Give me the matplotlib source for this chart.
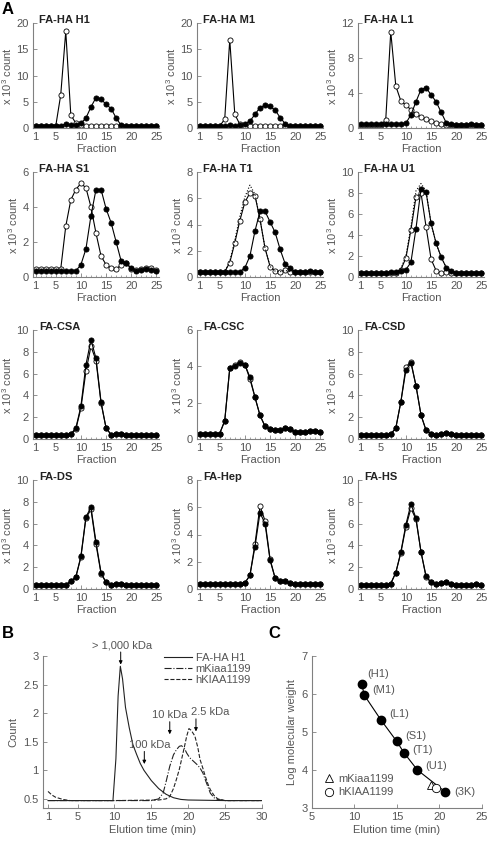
import matplotlib
matplotlib.use("Agg")
import matplotlib.pyplot as plt
from matplotlib.ticker import MultipleLocator

plt.rcParams['font.family'] = ['Liberation Sans', 'DejaVu Sans']
plt.rcParams['mathtext.default'] = 'regular'

GRAY = '#808080'
TXT = '#555555'
FS = 8

# ---------------- panel A : fractions ----------------
fractions = list(range(1, 26))

names = ['FA-HA H1', 'FA-HA M1', 'FA-HA L1',
         'FA-HA S1', 'FA-HA T1', 'FA-HA U1',
         'FA-CSA', 'FA-CSC', 'FA-CSD',
         'FA-DS', 'FA-Hep', 'FA-HS']

ytops = [20, 20, 12, 6, 8, 10, 10, 6, 10, 10, 8, 10]
ysteps = [5, 5, 4, 2, 2, 2, 2, 2, 2, 2, 2, 2]

open_h1 = [0.3]*5 + [6.3, 18.4, 2.5, 0.9, 0.5] + [0.35]*15
fill_h1 = [0.4]*5 + [0.45, 0.8, 0.5, 0.6, 0.9, 1.9, 4.0, 5.8, 5.5, 4.5, 3.7, 1.9, 0.5] + [0.4]*7

open_m1 = [0.35]*5 + [1.7, 16.8, 2.6, 0.7, 0.45] + [0.4]*15
fill_m1 = [0.4]*6 + [0.6, 0.45, 0.5, 0.8, 1.3, 2.6, 3.9, 4.3, 4.1, 3.4, 2.0, 0.8] + [0.4]*7

open_l1 = [0.35]*5 + [0.9, 11.0, 4.8, 3.1, 2.6, 2.1, 1.6, 1.25, 1.0, 0.75, 0.55, 0.45, 0.4] + [0.35]*7
fill_l1 = [0.45]*8 + [0.5, 0.55, 1.5, 3.0, 4.4, 4.6, 3.8, 3.0, 1.8, 0.6] + [0.45, 0.4, 0.4, 0.4, 0.5, 0.4, 0.35]

open_s1 = [0.45]*6 + [2.9, 4.4, 5.0, 5.35, 5.1, 4.0, 2.5, 1.2, 0.7, 0.5, 0.45, 0.7, 0.8,
                      0.45, 0.4, 0.45, 0.5, 0.5, 0.4]
fill_s1 = [0.35]*9 + [0.7, 1.6, 3.5, 5.0, 5.0, 3.9, 3.1, 2.0, 0.9, 0.8, 0.5, 0.35, 0.4, 0.45, 0.4, 0.35]

open_t1 = [0.4]*6 + [1.1, 2.6, 4.3, 5.7, 6.4, 6.2, 4.4, 2.2, 0.8, 0.45, 0.4, 0.5] + [0.4]*7
fill_t1 = [0.35]*8 + [0.4, 0.7, 1.6, 3.5, 5.0, 5.0, 4.2, 3.4, 2.1, 1.0, 0.7, 0.4, 0.35, 0.35, 0.45, 0.35, 0.35]
sum_t1 = [0.4]*6 + [1.2, 2.8, 4.6, 6.1, 7.0, 6.3, 4.4, 2.2, 0.8, 0.45, 0.4, 0.5] + [0.4]*7

open_u1 = [0.4]*8 + [0.7, 1.8, 4.5, 7.6, 8.0, 4.8, 1.7, 0.6, 0.4, 0.45] + [0.4]*7
fill_u1 = [0.35]*6 + [0.5, 0.5, 0.6, 0.7, 1.4, 4.6, 8.4, 8.1, 5.1, 3.2, 1.9, 0.9, 0.6, 0.4,
                      0.35, 0.35, 0.4, 0.35, 0.35]
sum_u1 = [0.4]*8 + [0.8, 2.0, 4.8, 8.2, 8.9, 8.2, 5.1, 3.2, 1.9, 0.9] + [0.6, 0.4, 0.35, 0.35, 0.4, 0.35, 0.35]

fill_csa = [0.35]*7 + [0.45, 1.0, 3.0, 6.8, 9.1, 7.4, 3.4, 1.0, 0.4, 0.45, 0.5, 0.4] + [0.35]*6
open_csa = [0.35]*7 + [0.45, 0.9, 2.8, 6.2, 8.5, 7.2, 3.3, 1.0, 0.4, 0.45, 0.5, 0.4] + [0.35]*6

fill_csc = [0.3]*5 + [1.0, 3.9, 4.0, 4.2, 4.1, 3.4, 2.3, 1.3, 0.7, 0.55, 0.5, 0.5, 0.6, 0.55,
                      0.4, 0.4, 0.4, 0.45, 0.45, 0.4]
open_csc = [0.3]*5 + [1.0, 3.9, 4.1, 4.25, 4.1, 3.3, 2.3, 1.3, 0.7, 0.55, 0.5, 0.5, 0.6, 0.55,
                      0.4, 0.4, 0.4, 0.45, 0.45, 0.4]

fill_csd = [0.35]*6 + [0.45, 1.0, 3.4, 6.3, 7.0, 4.9, 2.2, 0.8, 0.5, 0.4, 0.45, 0.55, 0.45] + [0.35]*6
open_csd = [0.35]*6 + [0.45, 1.0, 3.4, 6.6, 7.1, 4.9, 2.2, 0.8, 0.5, 0.4, 0.45, 0.55, 0.45] + [0.35]*6

fill_ds = [0.35]*6 + [0.4, 0.7, 1.1, 3.0, 6.6, 7.5, 4.3, 1.5, 0.6, 0.4, 0.5, 0.5, 0.4] + [0.35]*6
open_ds = [0.35]*6 + [0.4, 0.7, 1.1, 2.9, 6.5, 7.3, 4.1, 1.4, 0.6, 0.4, 0.5, 0.5, 0.4] + [0.35]*6

fill_hep = [0.35]*9 + [0.45, 1.0, 3.1, 5.6, 4.8, 2.1, 0.8, 0.6, 0.6, 0.45] + [0.35]*6
open_hep = [0.35]*9 + [0.45, 1.0, 3.3, 6.1, 5.0, 2.2, 0.8, 0.6, 0.6, 0.45] + [0.35]*6

fill_hs = [0.35]*6 + [0.5, 1.5, 3.4, 5.9, 7.8, 6.5, 3.4, 1.2, 0.6, 0.45, 0.55, 0.6, 0.45,
                      0.4, 0.4, 0.4, 0.4, 0.45, 0.4]
open_hs = [0.35]*6 + [0.5, 1.5, 3.3, 5.7, 7.4, 6.4, 3.4, 1.1, 0.6, 0.45, 0.55, 0.6, 0.45,
                      0.4, 0.4, 0.4, 0.4, 0.45, 0.4]

open_all = [open_h1, open_m1, open_l1, open_s1, open_t1, open_u1,
            open_csa, open_csc, open_csd, open_ds, open_hep, open_hs]
fill_all = [fill_h1, fill_m1, fill_l1, fill_s1, fill_t1, fill_u1,
            fill_csa, fill_csc, fill_csd, fill_ds, fill_hep, fill_hs]
sums = {4: sum_t1, 5: sum_u1}

# ---------------- panel B : elution profiles ----------------
t_h1 = [1, 5, 9.8, 10.2, 10.5, 10.8, 11.1, 11.5, 12, 12.5, 13, 13.5, 14, 15, 16, 17, 18, 19, 20, 25, 30]
y_h1 = [0.47, 0.47, 0.47, 1.2, 2.3, 2.82, 2.6, 2.1, 1.75, 1.45, 1.28, 1.12, 1.0, 0.82, 0.68, 0.58,
        0.52, 0.49, 0.48, 0.47, 0.47]
t_mk = [1, 5, 10, 15, 16, 16.6, 17, 17.5, 18, 18.4, 18.8, 19.1, 19.5, 19.8, 20.2, 20.7, 21.2,
        21.6, 22, 22.3, 22.7, 23, 23.5, 24, 25, 30]
y_mk = [0.47, 0.47, 0.47, 0.47, 0.5, 0.6, 0.8, 1.07, 1.27, 1.36, 1.42, 1.43, 1.38, 1.30, 1.22,
        1.16, 1.1, 1.04, 0.95, 0.84, 0.7, 0.6, 0.52, 0.49, 0.47, 0.47]
t_hk = [1, 1.5, 2, 3, 4, 10, 16, 17, 17.5, 18, 18.4, 18.8, 19.1, 19.5, 19.8, 20.1, 20.4, 20.9,
        21.3, 21.6, 22, 22.3, 22.7, 23, 23.5, 24, 25, 30]
y_hk = [0.63, 0.57, 0.53, 0.49, 0.47, 0.47, 0.48, 0.5, 0.54, 0.68, 0.84, 1.02, 1.19, 1.42, 1.6,
        1.73, 1.7, 1.6, 1.4, 1.19, 1.03, 0.9, 0.75, 0.66, 0.56, 0.5, 0.47, 0.47]

markers_b = ['> 1,000 kDa', '100 kDa', '10 kDa', '2.5 kDa']
marker_x = [10.85, 14.05, 17.5, 21.05]
marker_top = [3.07, 1.33, 1.85, 1.90]

# ---------------- panel C : calibration ----------------
std_time = [10.85, 11.15, 13.1, 14.95, 15.8, 17.4, 20.65]
std_logmw = [6.26, 5.97, 5.32, 4.76, 4.46, 4.0, 3.43]
std_names = ['(H1)', '(M1)', '(L1)', '(S1)', '(T1)', '(U1)', '(3K)']
mk_point = (19.0, 3.6)
hk_point = (19.55, 3.53)

fig = plt.figure(figsize=(4.89, 8.42), dpi=100)


def px_axes(left, top, right, bottom):
    return fig.add_axes([left / 489, 1 - bottom / 842, (right - left) / 489, (bottom - top) / 842])


def style(ax):
    for s in ['top', 'right']:
        ax.spines[s].set_visible(False)
    for s in ['left', 'bottom']:
        ax.spines[s].set_color(GRAY)
        ax.spines[s].set_linewidth(0.8)
    ax.tick_params(direction='in', length=3, width=0.6, colors=GRAY, labelcolor=TXT, labelsize=FS, pad=3)
    ax.tick_params(which='minor', direction='in', length=1.8, width=0.5, colors=GRAY)


col_left = [33, 197, 358]
rows = [(23, 128), (172, 277), (330, 439), (480, 589)]

for i in range(12):
    r, c = divmod(i, 3)
    ax = px_axes(col_left[c], rows[r][0], col_left[c] + 126, rows[r][1])
    style(ax)
    ax.plot(fractions, open_all[i], '-o', color='k', lw=0.8, ms=3.7, mfc='white', mec='k', mew=0.6)
    if i in sums:
        ax.plot(fractions, sums[i], ':', color='k', lw=0.8)
    ax.plot(fractions, fill_all[i], '-o', color='k', lw=0.8, ms=3.7, mfc='k', mec='k', mew=0.6)
    ax.set_xlim(0.5, 25.5)
    ax.set_ylim(0, ytops[i])
    ax.set_xticks([1, 5, 10, 15, 20, 25])
    ax.xaxis.set_minor_locator(MultipleLocator(1))
    ax.yaxis.set_major_locator(MultipleLocator(ysteps[i]))
    ax.set_xlabel('Fraction', fontsize=FS, color=TXT, labelpad=1)
    ax.set_ylabel('x 10$^3$ count', fontsize=FS, color=TXT, labelpad=2)
    ax.text(0.05, 1.03, names[i], transform=ax.transAxes, fontsize=FS, fontweight='bold',
            color='#222222', va='center', ha='left')

# panel B
axb = px_axes(43, 656, 262, 808)
style(axb)
axb.plot(t_h1, y_h1, '-', color='#222222', lw=0.8, label='FA-HA H1')
axb.plot(t_mk, y_mk, '-.', color='#222222', lw=0.8, label='mKiaa1199')
axb.plot(t_hk, y_hk, '--', color='#222222', lw=0.8, label='hKIAA1199')
axb.set_xlim(0.32, 30)
axb.set_ylim(0.34, 3)
axb.set_xticks([1, 5, 10, 15, 20, 25, 30])
axb.set_yticks([0.5, 1, 1.5, 2, 2.5, 3])
axb.set_yticklabels(['0.5', '1', '1.5', '2', '2.5', '3'])
axb.set_xlabel('Elution time (min)', fontsize=FS, color=TXT, labelpad=2)
axb.set_ylabel('Count', fontsize=FS, color=TXT, labelpad=4)
leg = axb.legend(loc='upper left', bbox_to_anchor=(0.53, 1.05), frameon=False, fontsize=FS,
                 handlelength=2.6, handletextpad=0.3, labelspacing=0.1, borderaxespad=0)
for t in leg.get_texts():
    t.set_color(TXT)
text_dx = [0.15, 0.75, 0.0, 1.9]
for name, x, top, dx in zip(markers_b, marker_x, marker_top, text_dx):
    axb.annotate('', xy=(x, top - 0.22), xytext=(x, top),
                 arrowprops=dict(arrowstyle='-|>', color='k', lw=0.7, mutation_scale=5,
                                 shrinkA=0, shrinkB=0))
    axb.text(x + dx, top + 0.12, name, fontsize=FS, color=TXT, ha='center', va='center')

# panel C
axc = px_axes(312, 656, 482, 808)
style(axc)
axc.plot(std_time, std_logmw, '-', color='k', lw=0.8)
axc.plot(std_time, std_logmw, 'o', color='k', ms=6)
axc.plot([mk_point[0]], [mk_point[1]], '^', mfc='white', mec='k', mew=0.6, ms=6, ls='none',
         label='mKiaa1199')
axc.plot([hk_point[0]], [hk_point[1]], 'o', mfc='white', mec='k', mew=0.6, ms=6, ls='none',
         label='hKIAA1199')
offsets = [(4, 7), (6, 4), (6, 4), (6, 4), (6, 2), (6, 3), (7, 0)]
for x, y, lab, off in zip(std_time, std_logmw, std_names, offsets):
    axc.annotate(lab, (x, y), xytext=off, textcoords='offset points', fontsize=FS,
                 color=TXT, ha='left', va='center')
axc.set_xlim(5, 25)
axc.set_ylim(3, 7)
axc.set_xticks([5, 10, 15, 20, 25])
axc.set_yticks([3, 4, 5, 6, 7])
axc.set_xlabel('Elution time (min)', fontsize=FS, color=TXT, labelpad=2)
axc.set_ylabel('Log molecular weight', fontsize=FS, color=TXT, labelpad=3)
legc = axc.legend(loc='lower left', bbox_to_anchor=(0.05, 0.04), frameon=False, fontsize=FS,
                  handlelength=0.8, handletextpad=0.4, labelspacing=0.3, borderaxespad=0)
for t in legc.get_texts():
    t.set_color(TXT)

fig.text(8 / 489, 1 - 9 / 842, 'A', fontsize=12, fontweight='bold', ha='center', va='center')
fig.text(8 / 489, 1 - 633 / 842, 'B', fontsize=12, fontweight='bold', ha='center', va='center')
fig.text(274 / 489, 1 - 633 / 842, 'C', fontsize=12, fontweight='bold', ha='center', va='center')

fig.savefig('out.png', dpi=100)
